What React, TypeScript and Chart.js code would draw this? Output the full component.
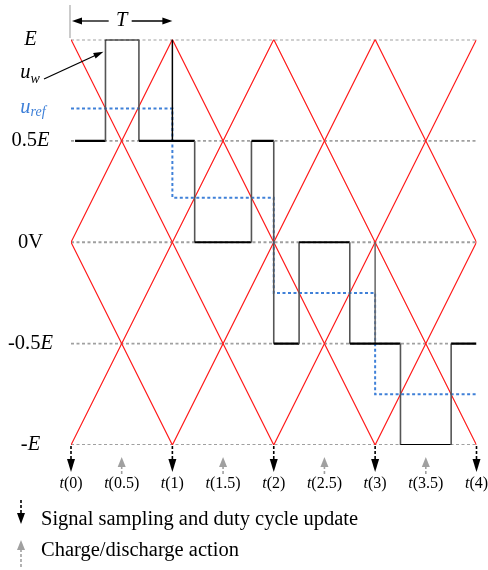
import React, { useEffect, useRef } from 'react';
import { Chart, registerables } from 'chart.js';

Chart.register(...registerables);

// ---------- data ----------
const sampleTimes = [0, 1, 2, 3, 4];
const sampleLabels = ['0', '1', '2', '3', '4'];
const chargeTimes = [0.5, 1.5, 2.5, 3.5];
const chargeLabels = ['0.5', '1.5', '2.5', '3.5'];

const refEdges = [0, 1, 2, 3, 4];
const uRef = [0.66, 0.22, -0.25, -0.75];

const uwEdges = [0.04, 0.34, 0.67, 1.22, 1.78, 2, 2.25, 2.75, 3.25, 3.75, 4];
const uwLevel = [0.5, 1, 0.5, 0, 0.5, -0.5, 0, -0.5, -1, -0.5];

const carrier1T = [0, 2, 4];
const carrier1V = [1, -1, 1];
const carrier2T = [0, 1, 3, 4];
const carrier2V = [0, 1, -1, 0];
const carrier3T = [0, 2, 4];
const carrier3V = [-1, 1, -1];
const carrier4T = [0, 1, 3, 4];
const carrier4V = [0, -1, 1, 0];

const gridLevels = [1, 0.5, 0, -0.5, -1];
const levelPrefix = ['', '0.5', '0V', '-0.5', '-'];
const levelItalic = ['E', 'E', '', 'E', 'E'];

const markT = [1, 3];
const markFrom = [1, 0];
const markTo = [0.5, -0.5];

const legendTexts = ['Signal sampling and duty cycle update', 'Charge/discharge action'];

const SERIF = "'Liberation Serif', 'Times New Roman', serif";
const RED = '#ff1a1a';
const BLUE = '#3f80d8';
const GRAY = '#a0a0a0';

// ---------- helpers ----------
function pts(ts: number[], vs: number[]) {
  return ts.map((t, i) => ({ x: t, y: vs[i] }));
}

function stairs(edges: number[], levels: number[]) {
  const out: { x: number; y: number }[] = [];
  for (let i = 0; i < levels.length; i++) {
    out.push({ x: edges[i], y: levels[i] });
    out.push({ x: edges[i + 1], y: levels[i] });
  }
  return out;
}

function arrowHead(ctx: CanvasRenderingContext2D, tx: number, ty: number, ang: number, len: number, w: number, color: string) {
  ctx.save();
  ctx.fillStyle = color;
  ctx.beginPath();
  const bx = tx - len * Math.cos(ang);
  const by = ty - len * Math.sin(ang);
  ctx.moveTo(tx, ty);
  ctx.lineTo(bx + (w / 2) * Math.sin(ang), by - (w / 2) * Math.cos(ang));
  ctx.lineTo(bx - (w / 2) * Math.sin(ang), by + (w / 2) * Math.cos(ang));
  ctx.closePath();
  ctx.fill();
  ctx.restore();
}

function line(ctx: CanvasRenderingContext2D, x1: number, y1: number, x2: number, y2: number, color: string, width: number, dash: number[] = []) {
  ctx.save();
  ctx.strokeStyle = color;
  ctx.lineWidth = width;
  ctx.setLineDash(dash);
  ctx.beginPath();
  ctx.moveTo(x1, y1);
  ctx.lineTo(x2, y2);
  ctx.stroke();
  ctx.restore();
}

type Part = { text: string; italic?: boolean; size: number; dy?: number; color?: string };

function drawParts(ctx: CanvasRenderingContext2D, parts: Part[], x: number, y: number, align: 'center' | 'left') {
  ctx.save();
  ctx.textBaseline = 'middle';
  ctx.textAlign = 'left';
  let total = 0;
  const widths = parts.map((p) => {
    ctx.font = `${p.italic ? 'italic ' : ''}${p.size}px ${SERIF}`;
    const w = ctx.measureText(p.text).width;
    total += w;
    return w;
  });
  let cx = align === 'center' ? x - total / 2 : x;
  parts.forEach((p, i) => {
    ctx.font = `${p.italic ? 'italic ' : ''}${p.size}px ${SERIF}`;
    ctx.fillStyle = p.color || '#000';
    ctx.fillText(p.text, cx, y + (p.dy || 0));
    cx += widths[i];
  });
  ctx.restore();
}

const annotations = {
  id: 'annotations',
  beforeDraw(chart: any) {
    const { ctx } = chart;
    ctx.save();
    ctx.fillStyle = '#fff';
    ctx.fillRect(0, 0, chart.width, chart.height);
    ctx.restore();
  },
  afterDraw(chart: any) {
    const { ctx } = chart;
    const xs = chart.scales.x;
    const ys = chart.scales.y;
    const yBottom = ys.getPixelForValue(-1);

    // level labels
    gridLevels.forEach((lv, i) => {
      const parts: Part[] = [];
      if (levelPrefix[i]) parts.push({ text: levelPrefix[i], size: 20.5 });
      if (levelItalic[i]) parts.push({ text: levelItalic[i], italic: true, size: 20.5 });
      drawParts(ctx, parts, 30.5, ys.getPixelForValue(lv), 'center');
    });

    // u_ref label
    drawParts(
      ctx,
      [
        { text: 'u', italic: true, size: 20.5, color: BLUE, dy: -1 },
        { text: 'ref', italic: true, size: 14, color: BLUE, dy: 4 },
      ],
      33,
      ys.getPixelForValue(uRef[0]),
      'center'
    );

    // u_w label + arrow
    const uwY = ys.getPixelForValue(0.83);
    drawParts(
      ctx,
      [
        { text: 'u', italic: true, size: 20.5, dy: -1 },
        { text: 'w', italic: true, size: 14, dy: 5 },
      ],
      30,
      uwY,
      'center'
    );
    const tipX = xs.getPixelForValue(uwEdges[1]) - 2;
    const tipY = ys.getPixelForValue(0.94);
    const sx = 44;
    const sy = uwY + 5;
    const ang = Math.atan2(tipY - sy, tipX - sx);
    line(ctx, sx, sy, tipX - 8 * Math.cos(ang), tipY - 8 * Math.sin(ang), '#000', 1.3);
    arrowHead(ctx, tipX, tipY, ang, 10, 6, '#000');

    // T period marker
    const x0 = xs.getPixelForValue(0);
    const x1 = xs.getPixelForValue(1);
    line(ctx, x0 - 1, 5, x0 - 1, 38, '#b0b0b0', 1.3);
    const ty = 21;
    const tMid = (x0 + x1) / 2;
    line(ctx, x0 + 8, ty, tMid - 13, ty, '#000', 1.3);
    line(ctx, tMid + 10, ty, x1 - 8, ty, '#000', 1.3);
    arrowHead(ctx, x0 + 1, ty, Math.PI, 10, 7, '#000');
    arrowHead(ctx, x1, ty, 0, 10, 7, '#000');
    drawParts(ctx, [{ text: 'T', italic: true, size: 20.5 }], tMid, ty, 'center');

    // sampling arrows (down, black, dashed)
    sampleTimes.forEach((t, i) => {
      const px = xs.getPixelForValue(t);
      line(ctx, px, yBottom + 1, px, yBottom + 15, '#000', 1.6, [3, 2]);
      arrowHead(ctx, px, yBottom + 27, Math.PI / 2, 13, 8, '#000');
      drawParts(
        ctx,
        [
          { text: 't', italic: true, size: 16 },
          { text: `(${sampleLabels[i]})`, size: 16 },
        ],
        px,
        yBottom + 39,
        'center'
      );
    });

    // charge arrows (up, gray, dashed)
    chargeTimes.forEach((t, i) => {
      const px = xs.getPixelForValue(t);
      arrowHead(ctx, px, yBottom + 12, -Math.PI / 2, 10, 8, '#a0a0a0');
      line(ctx, px, yBottom + 21, px, yBottom + 31, '#a0a0a0', 1.6, [3, 2]);
      drawParts(
        ctx,
        [
          { text: 't', italic: true, size: 16 },
          { text: `(${chargeLabels[i]})`, size: 16 },
        ],
        px,
        yBottom + 39,
        'center'
      );
    });

    // legend
    line(ctx, 21, 500, 21, 513, '#000', 1.6, [3, 2]);
    arrowHead(ctx, 21, 524, Math.PI / 2, 11, 8, '#000');
    drawParts(ctx, [{ text: legendTexts[0], size: 20.5 }], 41, 520, 'left');

    arrowHead(ctx, 21, 540, -Math.PI / 2, 10, 8, '#a0a0a0');
    line(ctx, 21, 549, 21, 568, '#a0a0a0', 1.6, [3, 2]);
    drawParts(ctx, [{ text: legendTexts[1], size: 20.5 }], 41, 551, 'left');
  },
};

export default function App() {
  const ref = useRef<HTMLCanvasElement | null>(null);

  useEffect(() => {
    if (!ref.current) return;
    const base = { showLine: true, pointRadius: 0, pointHoverRadius: 0, fill: false, tension: 0 };

    const datasets: any[] = [
      {
        ...base,
        label: 'u_w',
        data: stairs(uwEdges, uwLevel),
        borderColor: '#000',
        borderWidth: 2,
        segment: {
          borderColor: (c: any) => (Math.abs(c.p0.x - c.p1.x) < 0.01 ? '#555' : '#000'),
          borderWidth: (c: any) => (Math.abs(c.p0.x - c.p1.x) < 0.01 ? 1.6 : 2.2),
        },
      },
      ...markT.map((t, i) => ({
        ...base,
        label: 'mark' + i,
        data: [
          { x: t, y: markFrom[i] },
          { x: t, y: markTo[i] },
        ],
        borderColor: i === 0 ? '#000' : '#666',
        borderWidth: 1.5,
      })),
      {
        ...base,
        label: 'u_ref',
        data: stairs(refEdges, uRef),
        borderColor: BLUE,
        borderWidth: 2,
        borderDash: [3, 2.5],
      },
      ...[
        pts(carrier1T, carrier1V),
        pts(carrier2T, carrier2V),
        pts(carrier3T, carrier3V),
        pts(carrier4T, carrier4V),
      ].map((d, i) => ({
        ...base,
        label: 'carrier' + (i + 1),
        data: d,
        borderColor: RED,
        borderWidth: 1.2,
      })),
      ...gridLevels.map((lv, i) => ({
        ...base,
        label: 'grid' + i,
        data: [
          { x: 0, y: lv },
          { x: 4, y: lv },
        ],
        borderColor: GRAY,
        borderWidth: 1.8,
        borderDash: [3, 2.5],
      })),
    ];

    const chart = new Chart(ref.current, {
      type: 'scatter',
      data: { datasets },
      options: {
        responsive: false,
        animation: false,
        events: [],
        layout: { padding: { left: 71, right: 11.5, top: 39.5, bottom: 125 } },
        plugins: { legend: { display: false }, tooltip: { enabled: false } },
        scales: {
          x: { type: 'linear', min: 0, max: 4, display: false },
          y: { type: 'linear', min: -1, max: 1, display: false },
        },
      },
      plugins: [annotations],
    });
    return () => chart.destroy();
  }, []);

  return (
    <canvas
      ref={ref}
      width={488}
      height={570}
      style={{ position: 'absolute', left: 0, top: 0, width: 488, height: 570 }}
    />
  );
}
